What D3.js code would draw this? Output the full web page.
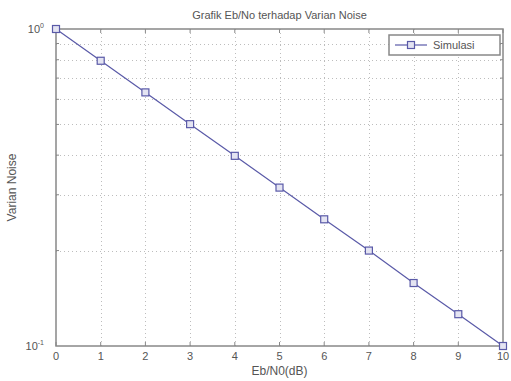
<!DOCTYPE html>
<html>
<head>
<meta charset="utf-8">
<script src="https://cdn.jsdelivr.net/npm/d3@7"></script>
<style>
  body { margin: 0; background: #fff; }
  svg { display: block; font-family: Arial, "Liberation Sans", sans-serif; }
</style>
</head>
<body>
<div id="chart-area"></div>
<script>
const width = 511;
const height = 381;

// data
const ebno = [0, 1, 2, 3, 4, 5, 6, 7, 8, 9, 10];
const varian = [1.0, 0.794, 0.631, 0.501, 0.398, 0.316, 0.251, 0.2, 0.158, 0.126, 0.1];
const xTicks = [0, 1, 2, 3, 4, 5, 6, 7, 8, 9, 10];
const yMinor = [0.2, 0.3, 0.4, 0.5, 0.6, 0.7, 0.8, 0.9];
const yMajor = [0.1, 1];

const margin = { top: 29, right: 8, bottom: 35, left: 56 };
const textColor = '#555';

const svg = d3
  .select('#chart-area')
  .append('svg')
  .attr('width', width)
  .attr('height', height);

const x = d3.scaleLinear().domain([0, 10]).range([margin.left, width - margin.right]);
const y = d3.scaleLog().domain([0.1, 1]).range([height - margin.bottom, margin.top]);

// grid
const grid = svg.append('g').attr('stroke', '#bdbdbd').attr('stroke-width', 1).attr('stroke-dasharray', '1,3');
grid
  .selectAll('line.vx')
  .data(xTicks.slice(1, -1))
  .join('line')
  .attr('x1', (d) => Math.round(x(d)) + 0.5)
  .attr('x2', (d) => Math.round(x(d)) + 0.5)
  .attr('y1', y(1))
  .attr('y2', y(0.1));
grid
  .selectAll('line.hy')
  .data(yMinor)
  .join('line')
  .attr('y1', (d) => Math.round(y(d)) + 0.5)
  .attr('y2', (d) => Math.round(y(d)) + 0.5)
  .attr('x1', x(0))
  .attr('x2', x(10));

// axes box
const axisColor = '#888';
svg
  .append('rect')
  .attr('x', x(0))
  .attr('y', y(1))
  .attr('width', x(10) - x(0))
  .attr('height', y(0.1) - y(1))
  .attr('fill', 'none')
  .attr('stroke', axisColor)
  .attr('stroke-width', 1.5);

// x ticks (bottom and top)
const ticks = svg.append('g').attr('stroke', axisColor);
ticks
  .selectAll('line.xb')
  .data(xTicks)
  .join('line')
  .attr('x1', (d) => x(d))
  .attr('x2', (d) => x(d))
  .attr('y1', y(0.1))
  .attr('y2', y(0.1) - 4);
ticks
  .selectAll('line.xt')
  .data(xTicks)
  .join('line')
  .attr('x1', (d) => x(d))
  .attr('x2', (d) => x(d))
  .attr('y1', y(1))
  .attr('y2', y(1) + 4);
// y minor ticks left/right
ticks
  .selectAll('line.yl')
  .data(yMinor)
  .join('line')
  .attr('x1', x(0))
  .attr('x2', x(0) + 3)
  .attr('y1', (d) => y(d))
  .attr('y2', (d) => y(d));
ticks
  .selectAll('line.yr')
  .data(yMinor)
  .join('line')
  .attr('x1', x(10))
  .attr('x2', x(10) - 3)
  .attr('y1', (d) => y(d))
  .attr('y2', (d) => y(d));

// x tick labels
svg
  .append('g')
  .attr('fill', textColor)
  .attr('font-size', 11)
  .attr('text-anchor', 'middle')
  .selectAll('text')
  .data(xTicks)
  .join('text')
  .attr('x', (d) => x(d))
  .attr('y', y(0.1) + 14)
  .text((d) => d);

// y tick labels 10^0, 10^-1
const yl = svg
  .append('g')
  .attr('fill', textColor)
  .attr('font-size', 11)
  .selectAll('text')
  .data(yMajor)
  .join('text')
  .attr('text-anchor', 'end')
  .attr('x', x(0) - 12)
  .attr('y', (d) => y(d) + 4);
yl.append('tspan').text('10');
yl.append('tspan')
  .attr('dy', -5)
  .attr('font-size', 7)
  .text((d) => Math.round(Math.log10(d)));

// line + markers
const lineColor = '#5a5aa8';
const pts = ebno.map((e, i) => [e, varian[i]]);
svg
  .append('path')
  .datum(pts)
  .attr('fill', 'none')
  .attr('stroke', lineColor)
  .attr('stroke-width', 1.2)
  .attr('d', d3.line().x((d) => x(d[0])).y((d) => y(d[1])));
svg
  .append('g')
  .selectAll('rect')
  .data(pts)
  .join('rect')
  .attr('x', (d) => x(d[0]) - 3.5)
  .attr('y', (d) => y(d[1]) - 3.5)
  .attr('width', 7)
  .attr('height', 7)
  .attr('fill', '#e4e4f2')
  .attr('stroke', lineColor)
  .attr('stroke-width', 1.2);

// title and labels
svg
  .append('text')
  .attr('x', (x(0) + x(10)) / 2)
  .attr('y', 19)
  .attr('text-anchor', 'middle')
  .attr('font-size', 11)
  .attr('fill', textColor)
  .text('Grafik Eb/No terhadap Varian Noise');
svg
  .append('text')
  .attr('x', (x(0) + x(10)) / 2)
  .attr('y', 375)
  .attr('text-anchor', 'middle')
  .attr('font-size', 12)
  .attr('fill', textColor)
  .text('Eb/N0(dB)');
svg
  .append('text')
  .attr('transform', `translate(16, ${(y(1) + y(0.1)) / 2}) rotate(-90)`)
  .attr('text-anchor', 'middle')
  .attr('font-size', 12)
  .attr('fill', textColor)
  .text('Varian Noise');

// legend
const lg = svg.append('g').attr('transform', 'translate(389, 35)');
lg.append('rect')
  .attr('width', 111)
  .attr('height', 20)
  .attr('fill', '#fff')
  .attr('stroke', axisColor)
  .attr('stroke-width', 1.5);
lg.append('line')
  .attr('x1', 6)
  .attr('x2', 38)
  .attr('y1', 10)
  .attr('y2', 10)
  .attr('stroke', lineColor)
  .attr('stroke-width', 1.2);
lg.append('rect')
  .attr('x', 18.5)
  .attr('y', 6.5)
  .attr('width', 7)
  .attr('height', 7)
  .attr('fill', '#e4e4f2')
  .attr('stroke', lineColor)
  .attr('stroke-width', 1.2);
lg.append('text')
  .attr('x', 44)
  .attr('y', 14)
  .attr('font-size', 11)
  .attr('fill', textColor)
  .text('Simulasi');
</script>
</body>
</html>
